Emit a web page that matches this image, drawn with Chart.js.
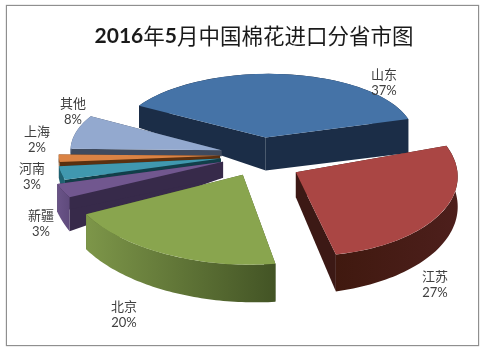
<!DOCTYPE html>
<html>
<head>
<meta charset="utf-8">
<style>
  html, body { margin: 0; padding: 0; background: #fff; }
  #wrap { position: relative; width: 483px; height: 351px; overflow: hidden; }
  #frame { position: absolute; left: 6px; top: 5px; width: 471px; height: 339px; border: 1px solid #8f8f8f; box-shadow: 0 0 1px #8f8f8f; }
  canvas { position: absolute; left: 0; top: 0; }
</style>
<script src="https://cdn.jsdelivr.net/npm/chart.js@4"></script>
</head>
<body>
<div id="wrap">
  <div id="frame"></div>
  <canvas id="pie" width="483" height="351"></canvas>
</div>
<script>
// data
const provinces = ['山东', '江苏', '北京', '新疆', '河南', '上海', '其他'];
const shares = [37, 27, 20, 3, 3, 2, 8];
const titleRuns = [['2016', true], ['年', false], ['5', true], ['月', false], ['中国棉花进口分省市图', false]];

// colours
const topColors = ['#4573a7', '#aa4644', '#89a54e', '#71578f', '#4098af', '#db8344', '#93a9cf'];
const sideColors = ['#1b2d47', '#3c1915', '#435425', '#372a4a', '#123f4a', '#5a3010', '#3f4a5e'];
const rimFrom = ['#1b2d47', '#40190f', '#7d9649', '#6a5488', '#1f6272', '#7a4418', '#4f5f7c'];
const rimTo = ['#1b2d47', '#4d1f1c', '#435425', '#5f4a7c', '#1f6272', '#7a4418', '#4f5f7c'];

// fake 3d view: each slice gets its own matrix because the original has perspective
const center = [261, 155];
const explode = 41;
const squash = 0.43;
const nudgeY = [0, 8, 4, 0, 0, 0, 0];
const views = [
  [1, -0.02, 0, 0.43],
  [1.09, 0.09, -0.017, 0.566],
  [1.205, 0.02, 0.017, 0.607],
  [1.17, 0, 0, 0.52],
  [1.1, 0, 0, 0.5],
  [1.09, 0, 0, 0.4],
  [1.02, 0, 0, 0.46]
];
// wall height at start corner, apex, end corner
const depth = [[22, 33, 34], [28, 25, 37], [38, 20, 35], [34, 16, 28], [16, 6, 12], [8, 4, 8], [8, 6, 8]];
const paintOrder = [0, 6, 5, 4, 3, 1, 2];

// label centres
const labelPos = [[384, 74], [435, 276], [124, 306], [41, 215], [32, 168], [37, 131], [73, 103]];

function viewOf(arc, i) {
  const mid = (arc.startAngle + arc.endAngle) / 2;
  const ax = center[0] + Math.cos(mid) * explode;
  const ay = center[1] + Math.sin(mid) * explode * squash + nudgeY[i];
  const [a, b, c, d] = views[i];
  return (px, py) => [ax + a * px + b * py, ay + c * px + d * py];
}

function drawWalls(ctx, arc, i) {
  const map = viewOf(arc, i);
  const [hs, ha, he] = depth[i];
  const r = arc.outerRadius;
  const s = arc.startAngle, e = arc.endAngle;
  const apex = map(0, 0);
  const p0 = map(Math.cos(s) * r, Math.sin(s) * r);
  const p1 = map(Math.cos(e) * r, Math.sin(e) * r);

  ctx.fillStyle = sideColors[i];
  [[p0, hs], [p1, he]].forEach(([p, h]) => {
    ctx.beginPath();
    ctx.moveTo(apex[0], apex[1]);
    ctx.lineTo(p[0], p[1]);
    ctx.lineTo(p[0], p[1] + h);
    ctx.lineTo(apex[0], apex[1] + ha);
    ctx.closePath();
    ctx.fill();
  });

  // outer rim
  const steps = 60;
  const pts = [];
  for (let k = 0; k <= steps; k++) {
    const t = s + (e - s) * k / steps;
    const p = map(Math.cos(t) * r, Math.sin(t) * r);
    pts.push([p[0], p[1], hs + (he - hs) * k / steps]);
  }
  const xs = pts.map(p => p[0]);
  const grad = ctx.createLinearGradient(Math.min(...xs), 0, Math.max(...xs), 0);
  grad.addColorStop(0, rimFrom[i]);
  grad.addColorStop(1, rimTo[i]);
  ctx.fillStyle = grad;
  ctx.beginPath();
  pts.forEach((p, k) => k ? ctx.lineTo(p[0], p[1]) : ctx.moveTo(p[0], p[1]));
  pts.slice().reverse().forEach(p => ctx.lineTo(p[0], p[1] + p[2]));
  ctx.closePath();
  ctx.fill();
}

const pie3d = {
  id: 'pie3d',
  beforeDatasetsDraw(chart) {
    const ctx = chart.ctx;
    const arcs = chart.getDatasetMeta(0).data;
    paintOrder.forEach(i => {
      const arc = arcs[i];
      drawWalls(ctx, arc, i);
      const o = viewOf(arc, i)(0, 0);
      const [a, b, c, d] = views[i];
      ctx.save();
      ctx.transform(a, c, b, d, o[0], o[1]);
      ctx.translate(-arc.x, -arc.y);
      arc.draw(ctx);
      ctx.restore();
    });
    return false;
  },
  afterDraw(chart) {
    const ctx = chart.ctx;
    ctx.save();

    // title, latin digits bold and han regular like the original
    ctx.textBaseline = 'middle';
    ctx.textAlign = 'left';
    ctx.fillStyle = '#1a1a1a';
    const fontOf = bold => bold ? 'bold 21px Lato' : '21.5px "Noto Sans CJK SC"';
    let w = 0;
    titleRuns.forEach(([txt, bold]) => { ctx.font = fontOf(bold); w += ctx.measureText(txt).width; });
    let x = 254 - w / 2;
    titleRuns.forEach(([txt, bold]) => {
      ctx.font = fontOf(bold);
      ctx.fillText(txt, x, 36);
      x += ctx.measureText(txt).width;
    });

    // labels
    ctx.textAlign = 'center';
    ctx.fillStyle = '#404040';
    provinces.forEach((name, i) => {
      const [lx, ly] = labelPos[i];
      ctx.font = '13px "Noto Sans CJK SC"';
      ctx.fillText(name, lx, ly);
      ctx.font = '13px Lato';
      ctx.fillText(shares[i] + '%', lx, ly + 17);
    });
    ctx.restore();
  }
};

new Chart(document.getElementById('pie').getContext('2d'), {
  type: 'pie',
  data: {
    labels: provinces,
    datasets: [{
      data: shares,
      backgroundColor: topColors,
      borderWidth: 0
    }]
  },
  options: {
    responsive: false,
    animation: false,
    rotation: -60,
    radius: 148,
    plugins: {
      legend: { display: false },
      tooltip: { enabled: false }
    }
  },
  plugins: [pie3d]
});
</script>
</body>
</html>
